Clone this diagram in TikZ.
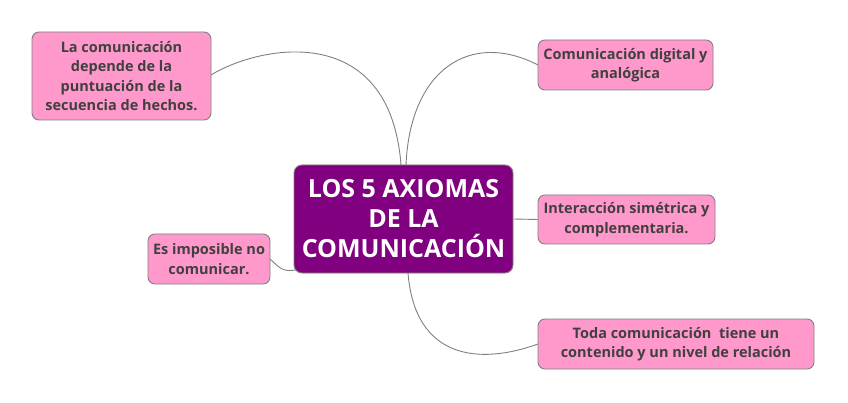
\documentclass[tikz,border=0pt]{standalone}
\usepackage{fontspec}
\setmainfont{Open Sans}
\definecolor{centerfill}{HTML}{800080}
\definecolor{leaffill}{HTML}{FF99CC}
\definecolor{edgegray}{HTML}{808080}
\definecolor{textgray}{HTML}{404040}
\begin{document}
\begin{tikzpicture}[x=1pt,y=-1pt,
  centerbox/.style={draw=edgegray, line width=0.9pt, fill=centerfill, rounded corners=8pt,
    text=white, font=\fontsize{25}{30}\selectfont\bfseries, align=center, inner sep=0pt},
  leafbox/.style={draw=edgegray, line width=0.9pt, fill=leaffill, rounded corners=7pt,
    text=textgray, font=\fontsize{14.5}{19.5}\selectfont\bfseries, align=center, inner sep=0pt},
  link/.style={draw=edgegray, line width=0.9pt}]
\useasboundingbox (0,0) rectangle (848,403);
\fill[white] (0,0) rectangle (848,403);

\coordinate (ctA) at (401,165);
\coordinate (ctB) at (406,165);
\coordinate (cbE) at (408,273);
\coordinate (clD) at (296,270);
\coordinate (aR) at (211,75);
\coordinate (bL) at (538,65);
\coordinate (eL) at (538,344);
\coordinate (dR) at (270,259);

\draw[link] (aR) .. controls (260,45) and (390,20) .. (ctA);
\draw[link] (ctB) .. controls (410,70) and (470,30) .. (bL);
\draw[link] (cbE) .. controls (415,360) and (480,365) .. (eL);
\draw[link] (dR) .. controls (280,268) and (282,272) .. (clD);

\node[centerbox, minimum width=219pt, minimum height=108pt] (c) at (403.5,219)
  {LOS 5 AXIOMAS\\DE LA\\COMUNICACIÓN};
\node[leafbox, minimum width=179pt, minimum height=88pt] (a) at (121.5,76)
  {La comunicación\\depende de la\\puntuación de la\\secuencia de hechos.};
\node[leafbox, minimum width=175pt, minimum height=50pt] (b) at (625.5,65)
  {Comunicación digital y\\analógica};
\node[leafbox, minimum width=177pt, minimum height=49pt] (r) at (626.5,219.5)
  {Interacción simétrica y\\complementaria.};
\node[leafbox, minimum width=122pt, minimum height=50pt] (d) at (209,259)
  {Es imposible no\\comunicar.};
\node[leafbox, minimum width=276pt, minimum height=50pt] (e) at (676,344)
  {Toda comunicación\ \ tiene un\\contenido y un nivel de relación};

\draw[link] (c.east) -- (r.west);
\end{tikzpicture}
\end{document}
